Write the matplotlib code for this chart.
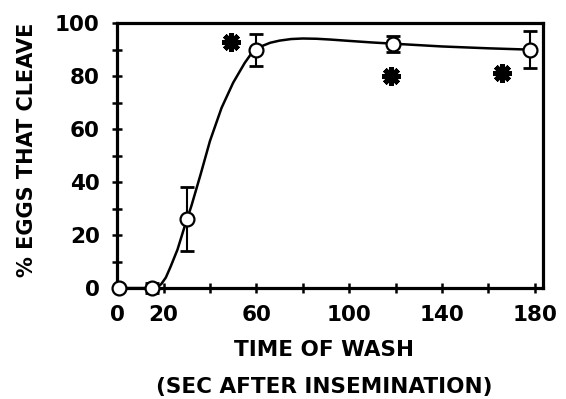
import numpy as np
import matplotlib.pyplot as plt
from matplotlib.ticker import FixedLocator, FixedFormatter

plt.rcParams['font.family'] = ['DejaVu Sans']
plt.rcParams['font.weight'] = 'bold'

# measured points (mean +/- error)
time_s = [1, 15, 30, 60, 119, 178]
pct_cleave = [0, 0, 26, 90, 92, 90]
err_low = [0, 2, 12, 6, 3, 7]
err_high = [0, 2, 12, 6, 3, 7]

# asterisk markers
star_x = [49, 118, 166]
star_y = [93, 80, 81]

# hand-fitted curve
curve_x = [1, 15, 17, 19, 21, 23, 26, 29, 32, 36, 40, 45, 50, 55, 58, 62,
           66, 70, 75, 80, 86, 92, 100, 110, 120, 140, 160, 178]
curve_y = [0, 0, 0.3, 1.5, 4, 8, 14.5, 23, 31, 43, 55.5, 68, 77.5, 85,
           88.7, 91.2, 92.6, 93.4, 94, 94.2, 94.1, 93.8, 93.3, 92.7, 92.2,
           91.2, 90.5, 90]

xtick_pos = [0, 20, 40, 60, 80, 100, 120, 140, 160, 180]
xtick_lab = ['0', '20', '', '60', '', '100', '', '140', '', '180']
ytick_pos = [0, 20, 40, 60, 80, 100]
ytick_minor = [10, 30, 50, 70, 90]

fig = plt.figure(figsize=(5.66, 3.99), dpi=100)
ax = fig.add_axes([0.207, 0.278, 0.752, 0.664])

ax.plot(curve_x, curve_y, color='black', lw=1.8, zorder=2,
        solid_capstyle='round', solid_joinstyle='round', clip_on=False)
ax.errorbar(time_s, pct_cleave, yerr=[err_low, err_high], fmt='none',
            ecolor='black', elinewidth=1.5, capsize=5, capthick=2,
            zorder=3, clip_on=False)
ax.plot(time_s, pct_cleave, 'o', ms=10, mfc='white', mec='black', mew=1.6,
        zorder=4, clip_on=False)
ax.plot(star_x, star_y, ls='none', marker=(8, 2, 0), ms=13.5, mew=3.6,
        color='black', zorder=4)

ax.set_xlim(0, 183.5)
ax.set_ylim(0, 100)

for s in ax.spines.values():
    s.set_linewidth(2.3)

ax.xaxis.set_major_locator(FixedLocator(xtick_pos))
ax.xaxis.set_major_formatter(FixedFormatter(xtick_lab))
ax.yaxis.set_major_locator(FixedLocator(ytick_pos))
ax.yaxis.set_minor_locator(FixedLocator(ytick_minor))
ax.tick_params(axis='both', which='both', direction='inout', length=7,
               width=1.8, labelsize=15.5)
ax.tick_params(axis='x', pad=9)
ax.tick_params(axis='y', pad=9)
for lab in ax.get_xticklabels() + ax.get_yticklabels():
    lab.set_fontweight('bold')

fig.text(0.047, 0.624, '% EGGS THAT CLEAVE', rotation=90, ha='center',
         va='center', fontsize=15, fontweight='bold')
fig.text(0.572, 0.123, 'TIME OF WASH', ha='center', va='center',
         fontsize=15.5, fontweight='bold')
fig.text(0.572, 0.030, '(SEC AFTER INSEMINATION)', ha='center', va='center',
         fontsize=15.5, fontweight='bold')

fig.savefig('out.png', dpi=100)
